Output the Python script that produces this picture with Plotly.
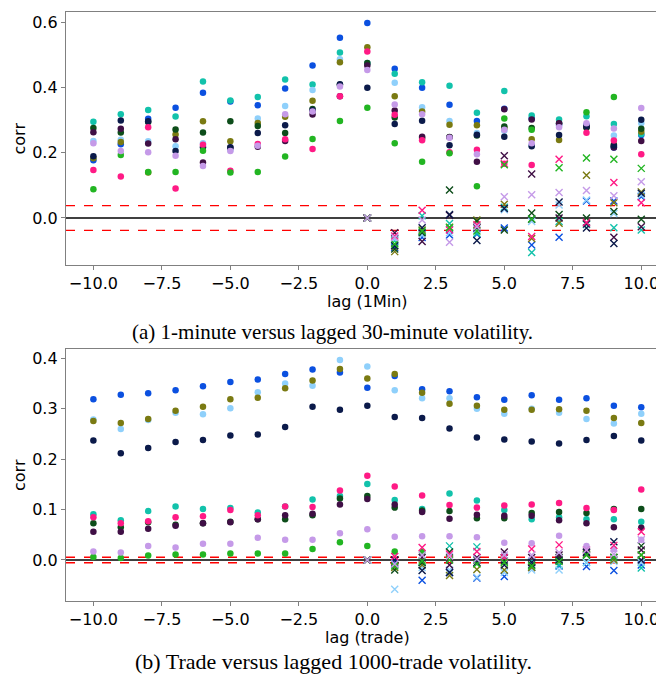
import plotly.graph_objects as go

# ---------------- data ----------------
LAGS = list(range(-10, 11))
LAGS_POS = list(range(0, 11))
X_TICKS = [-10, -7.5, -5, -2.5, 0, 2.5, 5, 7.5, 10]
Y_TICKS_A = [0.0, 0.2, 0.4, 0.6]
Y_TICKS_B = [0.0, 0.1, 0.2, 0.3, 0.4]
SIG_A = 0.038
SIG_B = 0.0055

NAMES = ["blue", "teal", "lightblue", "olive", "dkgreen", "dkpurple", "navy", "pink", "green", "lavender"]
COLORS = ["#0b50e0", "#12c2ab", "#8fd0fb", "#7a7a12", "#0d4d1a", "#3f0f45", "#0b1a4a", "#ff1a85", "#22b522", "#c59ae8"]

# (a) 1-minute vs lagged 30-minute: dots for lags -10..10
a_dot_blue      = [.177, .226, .304, .338, .384, .357, .345, .397, .467, .552, .597, .457, .399, .347, .297, .335, .305, .285, .285, .216, .254]
a_dot_teal      = [.295, .318, .331, .311, .418, .360, .371, .424, .409, .507, .473, .442, .416, .405, .322, .389, .314, .302, .312, .288, .257]
a_dot_lightblue = [.236, .240, .235, .220, .229, .208, .305, .343, .392, .486, .475, .414, .339, .297, .260, .267, .222, .290, .280, .253, .290]
a_dot_olive     = [.183, .233, .139, .256, .296, .235, .291, .310, .359, .477, .523, .373, .326, .286, .284, .276, .241, .239, .277, .225, .264]
a_dot_dkgreen   = [.276, .262, .294, .271, .262, .296, .282, .260, .334, .408, .475, .308, .245, .248, .253, .280, .276, .290, .277, .220, .273]
a_dot_dkpurple  = [.263, .273, .228, .241, .170, .215, .218, .236, .317, .373, .467, .329, .249, .247, .172, .333, .302, .290, .280, .216, .236]
a_dot_navy      = [.189, .299, .296, .205, .217, .217, .260, .284, .330, .410, .399, .288, .298, .223, .255, .249, .220, .254, .280, .222, .301]
a_dot_pink      = [.147, .127, .278, .090, .224, .145, .227, .241, .211, .373, .510, .316, .238, .201, .209, .166, .162, None, .261, .237, .195]
a_dot_green     = [.088, .193, .141, .141, .206, .139, .141, .188, .242, .297, .338, .229, .172, .198, .097, .305, .270, None, .324, .371, None]
a_dot_lavender  = [.229, .205, .201, .191, .159, .205, .221, .318, .326, .403, .453, .348, .318, .246, .195, .270, .229, .278, .290, .274, .337]

# (a) crosses for lags 0..10
a_x_blue      = [0, -.090, -.060, -.052, -.050, -.031, -.083, -.059, .052, .052, .065]
a_x_teal      = [0, -.070, .007, -.017, -.047, .033, -.106, -.011, -.020, -.030, -.037]
a_x_lightblue = [0, -.065, -.052, -.045, -.035, .025, -.011, .040, .055, .014, .070]
a_x_olive     = [0, -.103, -.037, -.028, -.006, .042, -.063, -.016, .131, .047, .080]
a_x_dkgreen   = [0, -.095, -.045, .086, -.010, -.037, .015, .011, .000, .020, -.004]
a_x_dkpurple  = [0, -.045, -.072, .008, -.030, .191, .135, .000, -.018, -.059, -.027]
a_x_navy      = [0, -.085, -.030, .011, -.069, .029, -.004, .049, -.031, -.078, .076]
a_x_pink      = [0, -.055, .024, -.037, -.021, .166, -.057, .180, -.014, .109, .047]
a_x_green     = [0, -.080, -.040, -.030, -.040, .163, -.003, .154, .184, .180, .152]
a_x_lavender  = [0, -.060, -.006, -.074, -.027, .065, .071, .078, .084, .068, .111]

# (b) trade vs lagged 1000-trade: dots for lags -10..10
b_dot_blue      = [.319, .328, .331, .337, .345, .353, .358, .369, .378, .372, .342, .365, .339, .335, .323, .318, .327, .318, .321, .306, .303]
b_dot_teal      = [.091, .079, .097, .106, .101, .103, .094, .106, .120, .127, .151, .119, .101, .132, .118, .099, .081, .085, .081, .081, .076]
b_dot_lightblue = [.279, .260, .278, .292, .289, .301, .333, .350, .346, .397, .384, .337, .321, .321, .300, .290, .300, .292, .280, .271, .290]
b_dot_olive     = [.276, .272, .280, .296, .304, .319, .322, .341, .356, .379, .360, .369, .332, .310, .306, .298, .298, .299, .296, .282, .272]
b_dot_dkgreen   = [.073, .065, .075, .070, .073, .076, .081, .081, .089, .122, .127, .104, .098, .097, .083, .083, .093, .095, .093, .101, .101]
b_dot_dkpurple  = [.056, .056, .062, .068, .073, .075, .081, .089, .092, .110, .121, .110, .095, .082, .090, .088, .088, .079, .073, .065, .064]
b_dot_navy      = [.237, .212, .222, .234, .238, .247, .249, .264, .304, .298, .306, .284, .282, .261, .243, .239, .235, .231, .238, .246, .237]
b_dot_pink      = [.085, .073, .077, .085, .087, .099, .089, .106, .105, .138, .167, .146, .128, .109, .104, .108, .110, .113, .103, .099, .140]
b_dot_green     = [.006, .004, .009, .011, .011, .013, .013, .013, .022, .035, .028, .017, .016, None, None, None, None, None, None, None, None]
b_dot_lavender  = [.017, .015, .028, .025, .032, .032, .044, .040, .040, .053, .061, .046, .047, .047, .045, .034, .033, .048, .028, .022, .040]

# (b) crosses for lags 0..10
b_x_blue      = [0, -.005, -.040, -.025, -.036, -.033, -.015, -.012, -.013, -.021, -.010]
b_x_teal      = [0, -.010, -.005, .028, .026, .005, -.003, -.010, -.005, .000, -.016]
b_x_lightblue = [0, -.058, -.015, -.020, -.034, -.025, -.020, -.020, -.005, -.003, -.005]
b_x_olive     = [0, -.015, -.010, -.031, -.019, -.020, -.015, .000, .012, .000, .010]
b_x_dkgreen   = [0, -.020, -.005, .016, .000, -.002, -.010, .005, .010, .005, .028]
b_x_dkpurple  = [0, .000, .005, -.010, .005, .016, .005, .010, .015, .005, .020]
b_x_navy      = [0, .000, -.021, -.025, -.005, -.010, -.005, .000, .016, .036, .000]
b_x_pink      = [0, .007, .025, .012, .017, .005, .022, .030, .020, .029, .056]
b_x_green     = [0, -.012, -.002, .000, -.008, -.005, -.012, -.003, .010, .005, .010]
b_x_lavender  = [0, -.008, .010, .008, .002, .010, .010, .015, .020, .012, .040]

A_DOTS = [a_dot_blue, a_dot_teal, a_dot_lightblue, a_dot_olive, a_dot_dkgreen,
          a_dot_dkpurple, a_dot_navy, a_dot_pink, a_dot_green, a_dot_lavender]
A_XS = [a_x_blue, a_x_teal, a_x_lightblue, a_x_olive, a_x_dkgreen,
        a_x_dkpurple, a_x_navy, a_x_pink, a_x_green, a_x_lavender]
B_DOTS = [b_dot_blue, b_dot_teal, b_dot_lightblue, b_dot_olive, b_dot_dkgreen,
          b_dot_dkpurple, b_dot_navy, b_dot_pink, b_dot_green, b_dot_lavender]
B_XS = [b_x_blue, b_x_teal, b_x_lightblue, b_x_olive, b_x_dkgreen,
        b_x_dkpurple, b_x_navy, b_x_pink, b_x_green, b_x_lavender]

# ---------------- figure ----------------
# the page places the figure 8px in from the window's top-left corner
OX, OY = 8, 8
W, H = 664 - OX, 682 - OY

def px_x(px):
    return (px - OX) / W

def px_y(py):
    return (H - (py - OY)) / H

fig = go.Figure()

for (dots, xs, xa, ya) in [(A_DOTS, A_XS, "x", "y"), (B_DOTS, B_XS, "x2", "y2")]:
    for name, col, vals in zip(NAMES, COLORS, dots):
        fig.add_trace(go.Scatter(x=LAGS, y=vals, mode="markers", name=name,
                                 marker=dict(color=col, size=6.5, line=dict(width=0)),
                                 xaxis=xa, yaxis=ya, showlegend=False))
    for name, col, vals in zip(NAMES, COLORS, xs):
        fig.add_trace(go.Scatter(x=LAGS_POS, y=vals, mode="markers", name=name + " x",
                                 marker=dict(symbol="x-thin", color=col, size=7,
                                             line=dict(color=col, width=1.4)),
                                 xaxis=xa, yaxis=ya, showlegend=False))

SPINE = "#808080"
axis_common = dict(showline=True, linecolor=SPINE, linewidth=1.3, ticks="outside",
                   ticklen=4, tickwidth=1, tickcolor=SPINE, showgrid=False, zeroline=False,
                   tickfont=dict(family="DejaVu Sans", size=16, color="black"))

xdom = [px_x(66), 1.0]
xr = [-11, 10.83]
fig.update_layout(
    width=W, height=H, margin=dict(l=0, r=0, t=0, b=0, pad=0),
    paper_bgcolor="white", plot_bgcolor="white",
    xaxis=dict(domain=xdom, range=xr, anchor="y", tickvals=X_TICKS, tickformat=".1f",
               mirror=True, **axis_common),
    yaxis=dict(domain=[px_y(265), px_y(12)], range=[-0.144, 0.631], anchor="x",
               tickvals=Y_TICKS_A, tickformat=".1f", **axis_common),
    xaxis2=dict(domain=xdom, range=xr, anchor="y2", tickvals=X_TICKS, tickformat=".1f",
                mirror=True, **axis_common),
    yaxis2=dict(domain=[px_y(600.7), px_y(349)], range=[-0.0808, 0.4187], anchor="x2",
                tickvals=Y_TICKS_B, tickformat=".1f", **axis_common),
)

shapes = []
for xref, yref, s in [("x domain", "y", SIG_A), ("x2 domain", "y2", SIG_B)]:
    shapes.append(dict(type="line", xref=xref, yref=yref, x0=0, x1=1, y0=0, y1=0,
                       line=dict(color="black", width=1.5), layer="below"))
    for v in (s, -s):
        shapes.append(dict(type="line", xref=xref, yref=yref, x0=0, x1=1, y0=v, y1=v,
                           line=dict(color="red", width=1.4, dash="dash"), layer="below"))
fig.update_layout(shapes=shapes)

sans = dict(family="DejaVu Sans", size=16, color="black")
serif_a = dict(family="Liberation Serif", size=21, color="black")
serif_b = dict(family="Liberation Serif", size=22, color="black")
ann = [
    dict(text="lag (1Min)", x=px_x(367), y=px_y(301), font=sans),
    dict(text="lag (trade)", x=px_x(367), y=px_y(637.5), font=sans),
    dict(text="corr", x=px_x(19), y=px_y(138.5), font=sans, textangle=-90),
    dict(text="corr", x=px_x(19), y=px_y(475), font=sans, textangle=-90),
    dict(text="(a) 1-minute versus lagged 30-minute volatility.", x=px_x(332), y=px_y(332), font=serif_a),
    dict(text="(b) Trade versus lagged 1000-trade volatility.", x=px_x(333), y=px_y(661.5), font=serif_b),
]
for a in ann:
    a.update(xref="paper", yref="paper", xanchor="center", yanchor="middle", showarrow=False)
fig.update_layout(annotations=ann)

fig.write_html("out.html")
